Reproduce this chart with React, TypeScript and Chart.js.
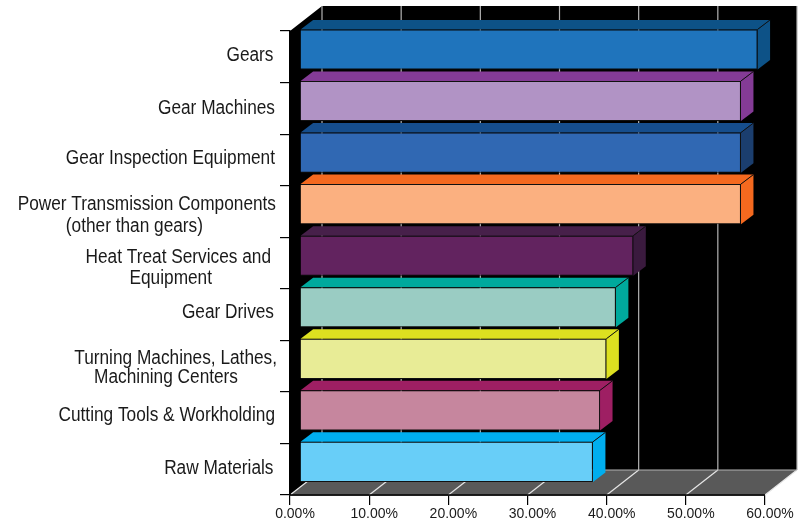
import React, { useEffect, useRef } from "react";
import { Chart, registerables } from "chart.js";

Chart.register(...registerables);

const categories: string[][] = [
  ["Gears"],
  ["Gear Machines"],
  ["Gear Inspection Equipment"],
  ["Power Transmission Components", "(other than gears)"],
  ["Heat Treat Services and", "Equipment"],
  ["Gear Drives"],
  ["Turning Machines, Lathes,", "Machining Centers"],
  ["Cutting Tools & Workholding"],
  ["Raw Materials"],
];
const values = [57.8, 55.7, 55.7, 55.7, 42.1, 39.9, 38.7, 37.9, 37.0];
const frontColors = ["#1F74BC", "#B193C5", "#3068B3", "#FBB080", "#62235F", "#9ACCC3", "#E8EC96", "#C6869E", "#68CEF8"];
const topColors = ["#0D5287", "#843B96", "#164E8D", "#F4691F", "#47204A", "#00A99D", "#DDE020", "#9E1F63", "#00AEEF"];
const sideColors = ["#0D5287", "#843B96", "#1B3E6E", "#F4691F", "#3A1A3E", "#00A99D", "#DDE020", "#9E1F63", "#00AEEF"];
const labelRightEdges = [[273.5], [275], [275], [276, 203], [271, 212], [274], [277, 238], [275], [273.5]];
const labelLineOffsets = [[-2.8], [-1.3], [-2.9], [-8.4, 13.6], [-7, 14], [-3.6], [-9.1, 9.9], [-3.7], [-2.2]];

const WALL_DX = 32;
const WALL_DY = 25;
const BAR_SHIFT_X = 10;
const BAR_SHIFT_Y = 7.3;
const DEPTH_X = 12.5;
const DEPTH_Y = 9.5;
const LABEL_SQUEEZE = 0.863;
const CAP_MID = 7.2;

const poly = (ctx: CanvasRenderingContext2D, pts: number[][], fill: string) => {
  ctx.beginPath();
  pts.forEach(([x, y], i) => (i ? ctx.lineTo(x, y) : ctx.moveTo(x, y)));
  ctx.closePath();
  ctx.fillStyle = fill;
  ctx.fill();
};

const scene3d = {
  id: "scene3d",
  beforeDatasetsDraw(chart: any) {
    const { ctx, chartArea: a, scales } = chart;
    const x = scales.x;
    ctx.save();
    poly(ctx, [[a.left, a.top], [a.left + WALL_DX, a.top - WALL_DY], [a.right + WALL_DX, a.top - WALL_DY],
      [a.right + WALL_DX, a.bottom - WALL_DY], [a.left + WALL_DX, a.bottom - WALL_DY], [a.left, a.bottom]], "#000");
    poly(ctx, [[a.left, a.bottom], [a.left + WALL_DX, a.bottom - WALL_DY], [a.right + WALL_DX, a.bottom - WALL_DY], [a.right, a.bottom]], "#595959");
    ctx.lineWidth = 1.2;
    x.ticks.forEach((t: any) => {
      const px = x.getPixelForValue(t.value);
      ctx.strokeStyle = "#B4B4B4";
      ctx.beginPath();
      ctx.moveTo(px + WALL_DX, a.top - WALL_DY);
      ctx.lineTo(px + WALL_DX, a.bottom - WALL_DY);
      ctx.stroke();
      ctx.strokeStyle = "#E6E6E6";
      ctx.beginPath();
      ctx.moveTo(px + WALL_DX, a.bottom - WALL_DY);
      ctx.lineTo(px, a.bottom);
      ctx.stroke();
    });
    ctx.strokeStyle = "#B4B4B4";
    ctx.beginPath();
    ctx.moveTo(a.left + WALL_DX, a.bottom - WALL_DY);
    ctx.lineTo(a.right + WALL_DX, a.bottom - WALL_DY);
    ctx.stroke();
    ctx.strokeStyle = "#000";
    ctx.lineWidth = 1.5;
    ctx.beginPath();
    ctx.moveTo(a.left, a.top);
    ctx.lineTo(a.left, a.bottom);
    ctx.lineTo(a.right, a.bottom);
    ctx.stroke();
    ctx.restore();

    // bars and their faces are drawn on the plane in the middle of the depth
    ctx.save();
    ctx.translate(BAR_SHIFT_X, -BAR_SHIFT_Y);
    const meta = chart.getDatasetMeta(0);
    meta.data.forEach((bar: any, i: number) => {
      const { x: bx, y, height, base } = bar.getProps(["x", "y", "height", "base"], true);
      const top = y - height / 2;
      const bottom = y + height / 2;
      poly(ctx, [[base, top], [base + DEPTH_X, top - DEPTH_Y], [bx + DEPTH_X, top - DEPTH_Y], [bx, top]], topColors[i]);
      poly(ctx, [[bx, top], [bx + DEPTH_X, top - DEPTH_Y], [bx + DEPTH_X, bottom - DEPTH_Y], [bx, bottom]], sideColors[i]);
      ctx.strokeStyle = "#111";
      ctx.lineWidth = 1;
      ctx.beginPath();
      ctx.moveTo(bx, top);
      ctx.lineTo(bx + DEPTH_X, top - DEPTH_Y);
      ctx.stroke();
    });
  },
  afterDatasetsDraw(chart: any) {
    chart.ctx.restore();
    const { ctx, scales } = chart;
    const y = scales.y;
    categories.forEach((lines, i) => {
      const c = y.getPixelForTick(i);
      lines.forEach((line, j) => {
        ctx.save();
        ctx.fillStyle = "#1a1a1a";
        ctx.font = "20px 'Liberation Sans'";
        ctx.textAlign = "right";
        ctx.textBaseline = "alphabetic";
        ctx.translate(labelRightEdges[i][j], c + labelLineOffsets[i][j] + CAP_MID);
        ctx.scale(LABEL_SQUEEZE, 1);
        ctx.fillText(line, 0, 0);
        ctx.restore();
      });
    });
  },
};

export default function App() {
  const ref = useRef<HTMLCanvasElement>(null);
  useEffect(() => {
    document.body.style.margin = "0";
    const chart = new Chart(ref.current!, {
      type: "bar",
      data: {
        labels: categories,
        datasets: [
          {
            label: "Share",
            data: values,
            backgroundColor: frontColors,
            borderColor: "#111",
            borderWidth: 1,
            barPercentage: 0.875,
            categoryPercentage: 0.89,
            clip: false as any,
          },
        ],
      },
      options: {
        indexAxis: "y",
        animation: false,
        responsive: false,
        devicePixelRatio: 1,
        layout: { padding: { top: 31, right: 41, bottom: 0, left: 0 } },
        plugins: { legend: { display: false }, tooltip: { enabled: false } },
        scales: {
          x: {
            min: 0,
            max: 60,
            afterFit: (s: any) => { s.height = 26; },
            border: { color: "#000", width: 1.5 },
            grid: { drawOnChartArea: false, color: "#000", tickLength: 10, lineWidth: 1.2 },
            ticks: {
              stepSize: 10,
              autoSkip: false,
              maxRotation: 0,
              padding: 1,
              labelOffset: 5,
              color: "#1a1a1a",
              font: { family: "'Liberation Sans'", size: 14 },
              callback: (v: any) => Number(v).toFixed(2) + "%",
            },
          },
          y: {
            afterFit: (s: any) => { s.width = 290; },
            border: { color: "#000", width: 1.5 },
            grid: { drawOnChartArea: false, color: "#000", tickLength: 10, lineWidth: 1.2, offset: true },
            ticks: { display: false },
          },
        },
      },
      plugins: [scene3d],
    } as any);
    return () => chart.destroy();
  }, []);
  return (
    <div style={{ position: "absolute", left: 0, top: 0, width: 806, height: 521, background: "#fff" }}>
      <canvas ref={ref} width={806} height={521} style={{ display: "block" }} />
    </div>
  );
}
